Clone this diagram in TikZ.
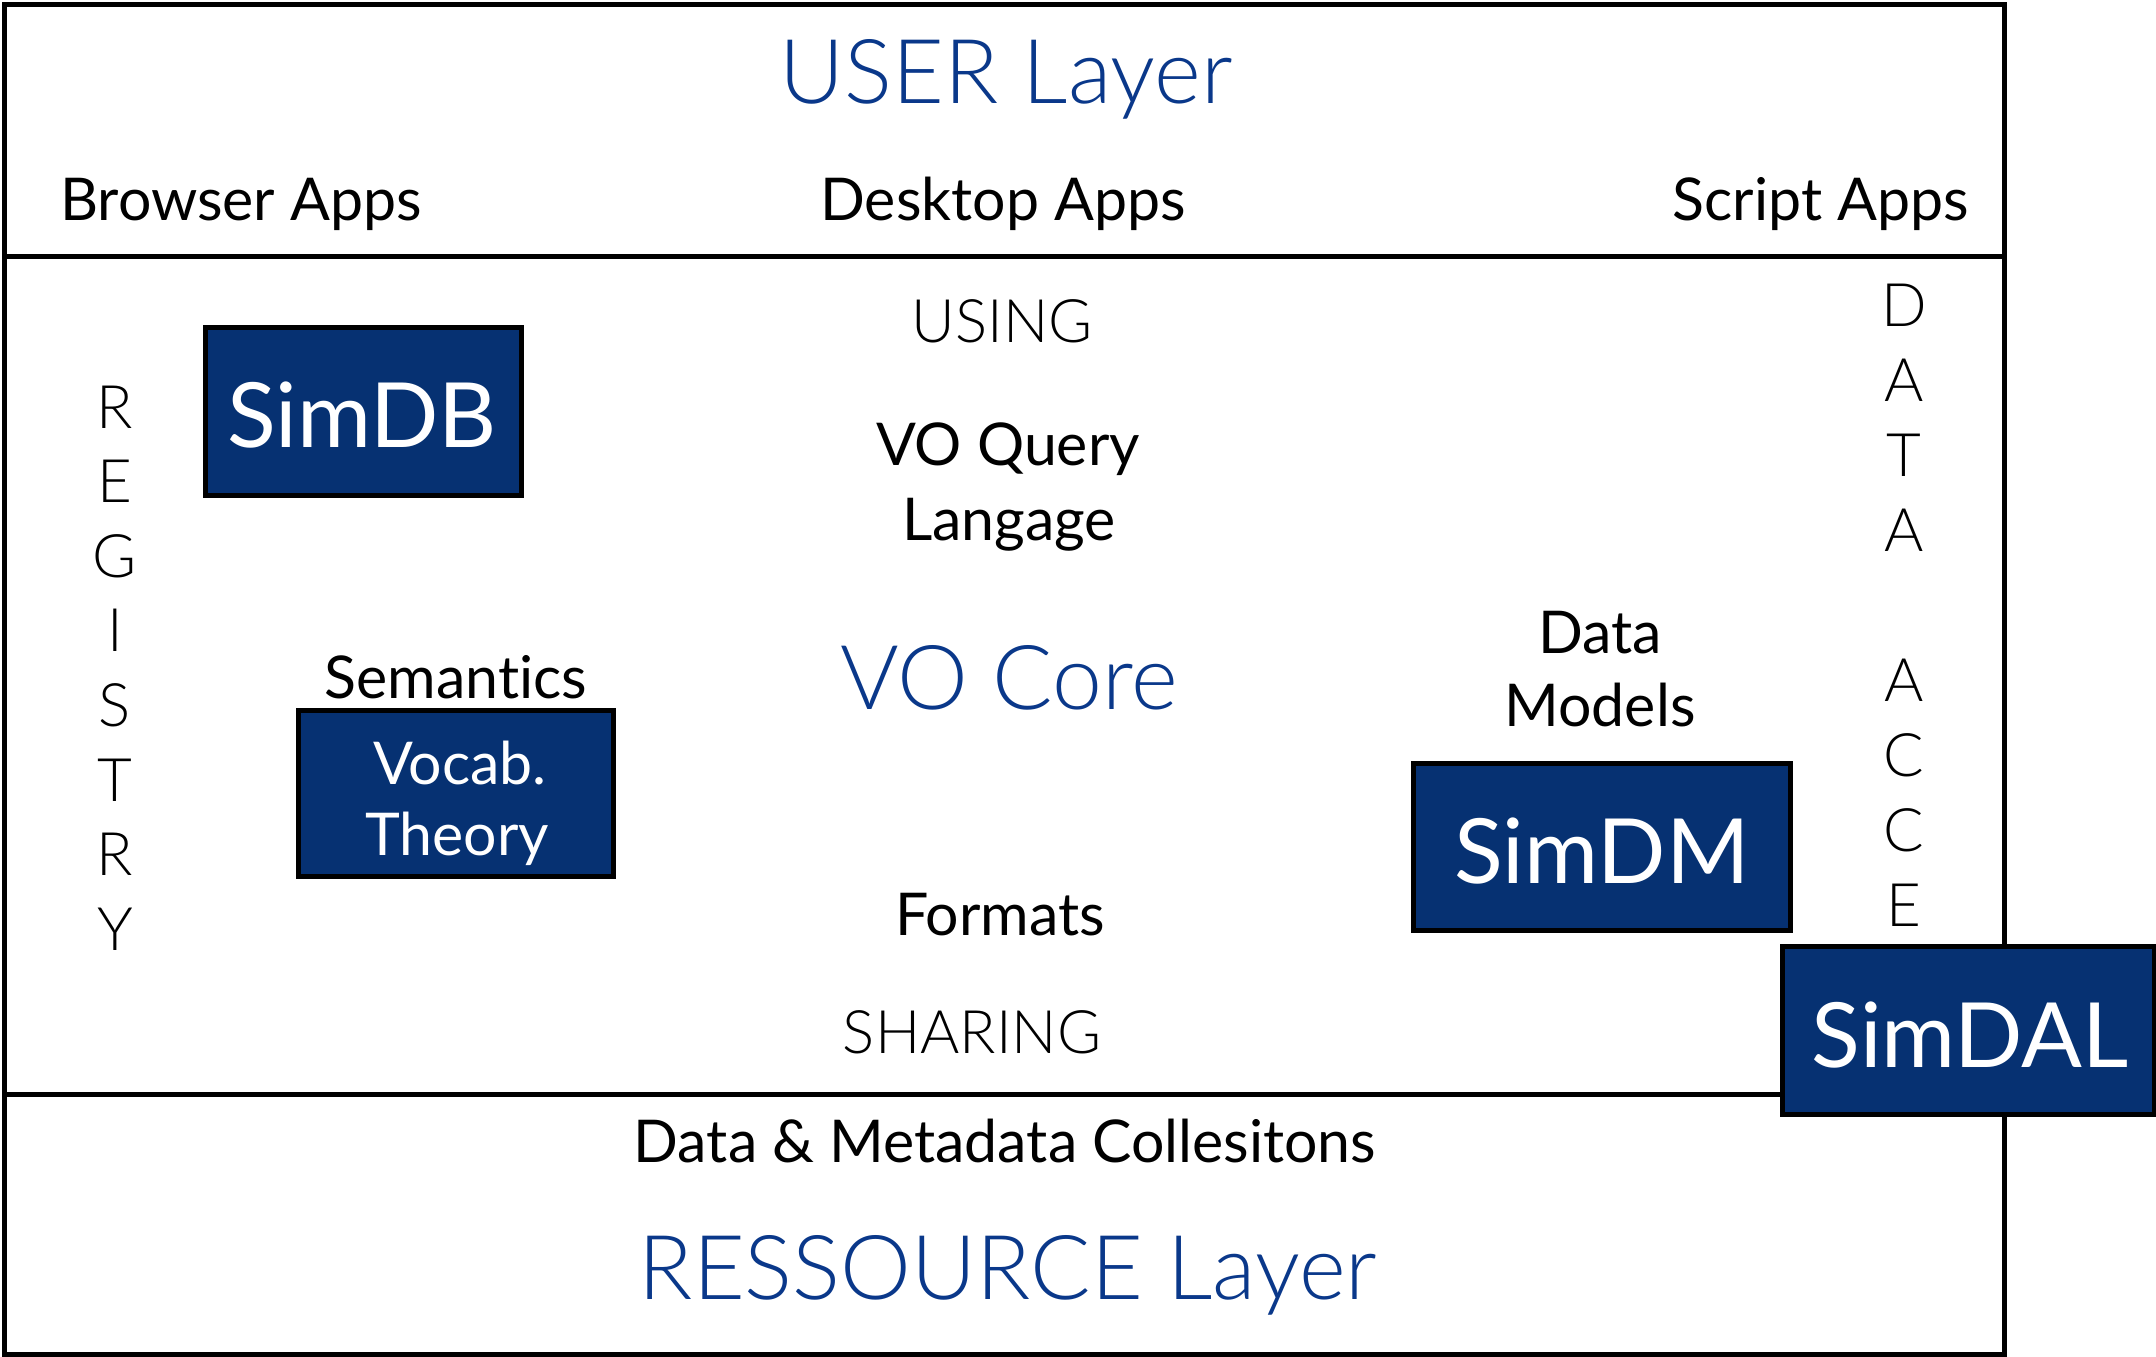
\documentclass[tikz,border=0pt]{standalone}
\usepackage{fontspec}
\setmainfont[Ligatures=NoCommon]{Lato}
\newfontfamily\lightfont[Ligatures=NoCommon]{Lato Light}
\usetikzlibrary{shadows}
\definecolor{boxblue}{RGB}{6,49,114}
\definecolor{titleblue}{RGB}{10,56,138}
\begin{document}
\begin{tikzpicture}[x=1pt,y=-1pt,
  frameline/.style={draw=black,line width=5pt},
  lbl/.style={font=\fontsize{59}{69}\selectfont,inner sep=0pt,anchor=base},
  thin/.style={font=\lightfont\fontsize{60}{70}\selectfont,inner sep=0pt,anchor=base},
  title/.style={font=\lightfont\fontsize{89.5}{98}\selectfont,text=titleblue,inner sep=0pt,anchor=base},
  simbox/.style={draw=black,line width=5pt,fill=boxblue,inner sep=0pt,
    drop shadow={shadow xshift=3pt,shadow yshift=-3pt,opacity=0.3,fill=black}},
  boxtext/.style={font=\fontsize{90}{98}\selectfont,text=white,inner sep=0pt,anchor=base},
  boxsmall/.style={font=\fontsize{59}{69}\selectfont,text=white,inner sep=0pt,anchor=base}]
\useasboundingbox[fill=white] (0,0) rectangle (2156,1357);

% layer frame
\coordinate (tl) at (4,4);
\coordinate (br) at (2004,1354);
\coordinate (ul) at (4,256);
\coordinate (ur) at (2004,256);
\coordinate (rl) at (4,1094);
\coordinate (rr) at (2004,1094);
\draw[frameline] (tl) rectangle (br);
\draw[frameline] (ul) -- (ur);
\draw[frameline] (rl) -- (rr);

% user layer
\node[title] (user) at (1006,103) {USER Layer};
\node[lbl,anchor=base west] (browser) at (60,220) {Browser Apps};
\node[lbl] (desktop) at (1003,220) {Desktop Apps};
\node[lbl,anchor=base east] (script) at (1969,220) {Script Apps};

% core
\node[thin] (using) at (1002,342) {USING};
\node[lbl] (query1) at (1008,465) {VO Query};
\node[lbl] (query2) at (1009,540) {Langage};
\node[title] (core) at (1009,709) {VO Core};
\node[lbl] (formats) at (1000,935) {Formats};
\node[thin] (sharing) at (972,1053) {SHARING};
\node[lbl] (semantics) at (456,698) {Semantics};
\node[lbl] (dm1) at (1600,653) {Data};
\node[lbl] (dm2) at (1600,726) {Models};

% vertical words
\foreach \ch [count=\i from 0] in {R,E,G,I,S,T,R,Y}
  \node[thin] (reg\i) at (115,428+74.6*\i) {\ch};
\foreach \ch/\k in {D/0,A/1,T/2,A/3,A/5,C/6,C/7,E/8}
  \node[thin] (acc\k) at (1904,326+75*\k) {\ch};

% blue boxes
\node[simbox,minimum width=316,minimum height=168] (simdb) at (363,411) {};
\node[boxtext] (simdbt) at (362,447) {SimDB};
\node[simbox,minimum width=315,minimum height=166] (vocab) at (455.5,793) {};
\node[boxsmall] (vocab1) at (460,784) {Vocab.};
\node[boxsmall] (vocab2) at (457,855) {Theory};
\node[simbox,minimum width=377,minimum height=167] (simdm) at (1601.5,846.5) {};
\node[boxtext] (simdmt) at (1602,883) {SimDM};
\node[simbox,minimum width=372,minimum height=168] (simdal) at (1968,1030) {};
\node[boxtext] (simdalt) at (1970,1067) {SimDAL};

% resource layer
\node[lbl] (collections) at (1005,1162) {Data \& Metadata Collesitons};
\node[title] (resource) at (1008,1299) {RESSOURCE Layer};
\end{tikzpicture}
\end{document}
